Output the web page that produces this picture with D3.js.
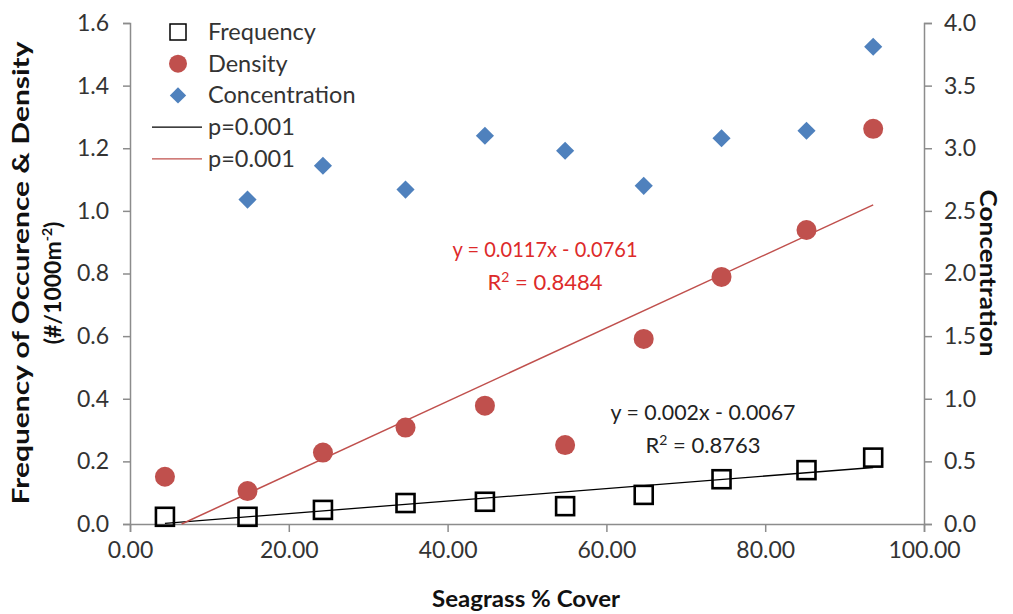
<!DOCTYPE html>
<html>
<head>
<meta charset="utf-8">
<script src="https://cdn.jsdelivr.net/npm/d3@7"></script>
<style>
  body { margin: 0; background: #fff; }
  text { font-family: Lato, "Liberation Sans", sans-serif; }
</style>
</head>
<body>
<div id="plot"></div>
<script>
// seagrass cover (x) and the three measured series
var cover = [4.4, 14.8, 24.3, 34.7, 44.7, 54.8, 64.7, 74.5, 85.2, 93.6];
var frequency = [0.023, 0.023, 0.045, 0.067, 0.071, 0.057, 0.093, 0.143, 0.172, 0.212];
var density = [0.151, 0.105, 0.228, 0.308, 0.378, 0.252, 0.591, 0.789, 0.939, 1.262];
var concentration = [null, 2.59, 2.86, 2.67, 3.10, 2.98, 2.70, 3.08, 3.14, 3.81];

// trendline coefficients [slope, intercept]
var freqFit = [0.002, -0.0067];
var densFit = [0.0117, -0.0761];

var xTicks = [0, 20, 40, 60, 80, 100];
var yLeftTicks = [0, 0.2, 0.4, 0.6, 0.8, 1.0, 1.2, 1.4, 1.6];
var yRightTicks = [0, 0.5, 1.0, 1.5, 2.0, 2.5, 3.0, 3.5, 4.0];

var W = 1013, H = 614;
var margin = {t:23, r:89, b:90, l:130};
var width = W - margin.l - margin.r,
    height = H - margin.t - margin.b;

var red = '#c0504d', blue = '#4f81bd', axisCol = '#8c8c8c';

var svg = d3.select('#plot')
  .append('svg')
  .attr('width', W)
  .attr('height', H);

var plot = svg.append('g')
  .attr('transform', 'translate(' + margin.l + ',' + margin.t + ')');

var x = d3.scaleLinear().domain([0, 100]).range([0, width]);
var yL = d3.scaleLinear().domain([0, 1.6]).range([height, 0]);
var yR = d3.scaleLinear().domain([0, 4]).range([height, 0]);

// axes
var xAxis = plot.append('g')
  .attr('transform', 'translate(0,' + height + ')')
  .call(d3.axisBottom(x).tickValues(xTicks).tickFormat(d3.format('.2f')).tickSizeOuter(0).tickSize(8).tickPadding(10));
var lAxis = plot.append('g')
  .call(d3.axisLeft(yL).tickValues(yLeftTicks).tickFormat(d3.format('.1f')).tickSizeOuter(0).tickSize(7).tickPadding(14));
var rAxis = plot.append('g')
  .attr('transform', 'translate(' + width + ',0)')
  .call(d3.axisRight(yR).tickValues(yRightTicks).tickFormat(d3.format('.1f')).tickSizeOuter(0).tickSize(8).tickPadding(12));

[xAxis, lAxis, rAxis].forEach(function (a) {
  a.select('.domain').attr('stroke', axisCol).attr('stroke-width', 1.5);
  a.selectAll('.tick line').attr('stroke', axisCol).attr('stroke-width', 1.5);
  a.selectAll('.tick text').style('font-size', '23px').style('font-family', 'Lato, sans-serif').style('fill', '#333');
});

// trend lines
function fitLine(fit, xs) {
  var x0 = d3.min(xs), x1 = d3.max(xs);
  var start = fit[0] * x0 + fit[1] < 0 ? -fit[1] / fit[0] : x0;
  return [[start, fit[0] * start + fit[1]], [x1, fit[0] * x1 + fit[1]]];
}
var line = d3.line().x(function (d) { return x(d[0]); }).y(function (d) { return yL(d[1]); });

plot.append('path')
  .attr('d', line(fitLine(freqFit, cover)))
  .attr('stroke', '#000').attr('stroke-width', 1.3).attr('fill', 'none');
plot.append('path')
  .attr('d', line(fitLine(densFit, cover)))
  .attr('stroke', red).attr('stroke-width', 1.5).attr('fill', 'none');

// concentration diamonds
plot.selectAll('.conc')
  .data(cover.map(function (c, i) { return [c, concentration[i]]; }).filter(function (d) { return d[1] != null; }))
  .enter().append('path')
  .attr('d', d3.symbol().type(d3.symbolDiamond2).size(210))
  .attr('transform', function (d) { return 'translate(' + x(d[0]) + ',' + yR(d[1]) + ')'; })
  .attr('fill', blue);

// density circles
plot.selectAll('.dens')
  .data(cover.map(function (c, i) { return [c, density[i]]; }))
  .enter().append('circle')
  .attr('cx', function (d) { return x(d[0]); })
  .attr('cy', function (d) { return yL(d[1]); })
  .attr('r', 10)
  .attr('fill', red);

// frequency squares
plot.selectAll('.freq')
  .data(cover.map(function (c, i) { return [c, frequency[i]]; }))
  .enter().append('rect')
  .attr('x', function (d) { return x(d[0]) - 9; })
  .attr('y', function (d) { return yL(d[1]) - 9; })
  .attr('width', 18).attr('height', 18)
  .attr('fill', 'none').attr('stroke', '#000').attr('stroke-width', 2.6);

// equations
function eq(fit, r2, cx, cy, col) {
  var t = plot.append('text').attr('x', cx).attr('y', cy).attr('text-anchor', 'middle')
    .style('font-size', '22px').style('fill', col).attr('textLength', 185).attr('lengthAdjust', 'spacingAndGlyphs');
  t.text('y = ' + fit[0] + 'x - ' + Math.abs(fit[1]));
  var t2 = plot.append('text').attr('x', cx).attr('y', cy + 33).attr('text-anchor', 'middle')
    .style('font-size', '22px').style('fill', col);
  t2.append('tspan').text('R');
  t2.append('tspan').attr('dy', -8).style('font-size', '14px').text('2');
  t2.append('tspan').attr('dy', 8).text(' = ' + r2);
}
eq(densFit, '0.8484', 545 - margin.l, 257 - margin.t, '#dd2a2a');
eq(freqFit, '0.8763', 703 - margin.l, 420 - margin.t, '#222');

// legend
var legend = svg.append('g');
var items = [
  {label: 'Frequency', type: 'square'},
  {label: 'Density', type: 'circle'},
  {label: 'Concentration', type: 'diamond'},
  {label: 'p=0.001', type: 'line', col: '#000'},
  {label: 'p=0.001', type: 'line', col: red}
];
items.forEach(function (it, i) {
  var cy = 32 + i * 31.7;
  if (it.type === 'square') {
    legend.append('rect').attr('x', 170).attr('y', cy - 8).attr('width', 16).attr('height', 16)
      .attr('fill', 'none').attr('stroke', '#000').attr('stroke-width', 1.5);
  } else if (it.type === 'circle') {
    legend.append('circle').attr('cx', 178).attr('cy', cy).attr('r', 9).attr('fill', red);
  } else if (it.type === 'diamond') {
    legend.append('path').attr('d', d3.symbol().type(d3.symbolDiamond2).size(170))
      .attr('transform', 'translate(178,' + cy + ')').attr('fill', blue);
  } else {
    legend.append('line').attr('x1', 152).attr('x2', 202).attr('y1', cy).attr('y2', cy)
      .attr('stroke', it.col).attr('stroke-width', 1.3);
  }
  legend.append('text').attr('x', 208).attr('y', cy + 8).style('font-size', '23.5px').style('fill', '#333').text(it.label);
});

// axis titles
svg.append('text').attr('x', 526).attr('y', 607).attr('text-anchor', 'middle')
  .style('font-size', '22px').style('font-weight', 'bold').style('fill', '#111')
  .attr('textLength', 188).attr('lengthAdjust', 'spacingAndGlyphs').text('Seagrass % Cover');

var lt = svg.append('g').attr('transform', 'translate(29,273) rotate(-90)');
lt.append('text').attr('text-anchor', 'middle').style('font-size', '23px').style('font-weight', 'bold')
  .style('fill', '#111').attr('textLength', 463).attr('lengthAdjust', 'spacingAndGlyphs')
  .text('Frequency of Occurence & Density');
var lt2 = lt.append('text').attr('x', -10).attr('y', 32).attr('text-anchor', 'middle').style('font-size', '23px')
  .style('font-weight', 'bold').style('fill', '#111');
lt2.append('tspan').text('(#/1000m');
lt2.append('tspan').attr('dy', -9).style('font-size', '14px').text('-2');
lt2.append('tspan').attr('dy', 9).text(')');

svg.append('g').attr('transform', 'translate(980,273) rotate(90)')
  .append('text').attr('text-anchor', 'middle').style('font-size', '22px').style('font-weight', 'bold')
  .style('fill', '#111').attr('textLength', 167).attr('lengthAdjust', 'spacingAndGlyphs').text('Concentration');
</script>
</body>
</html>
